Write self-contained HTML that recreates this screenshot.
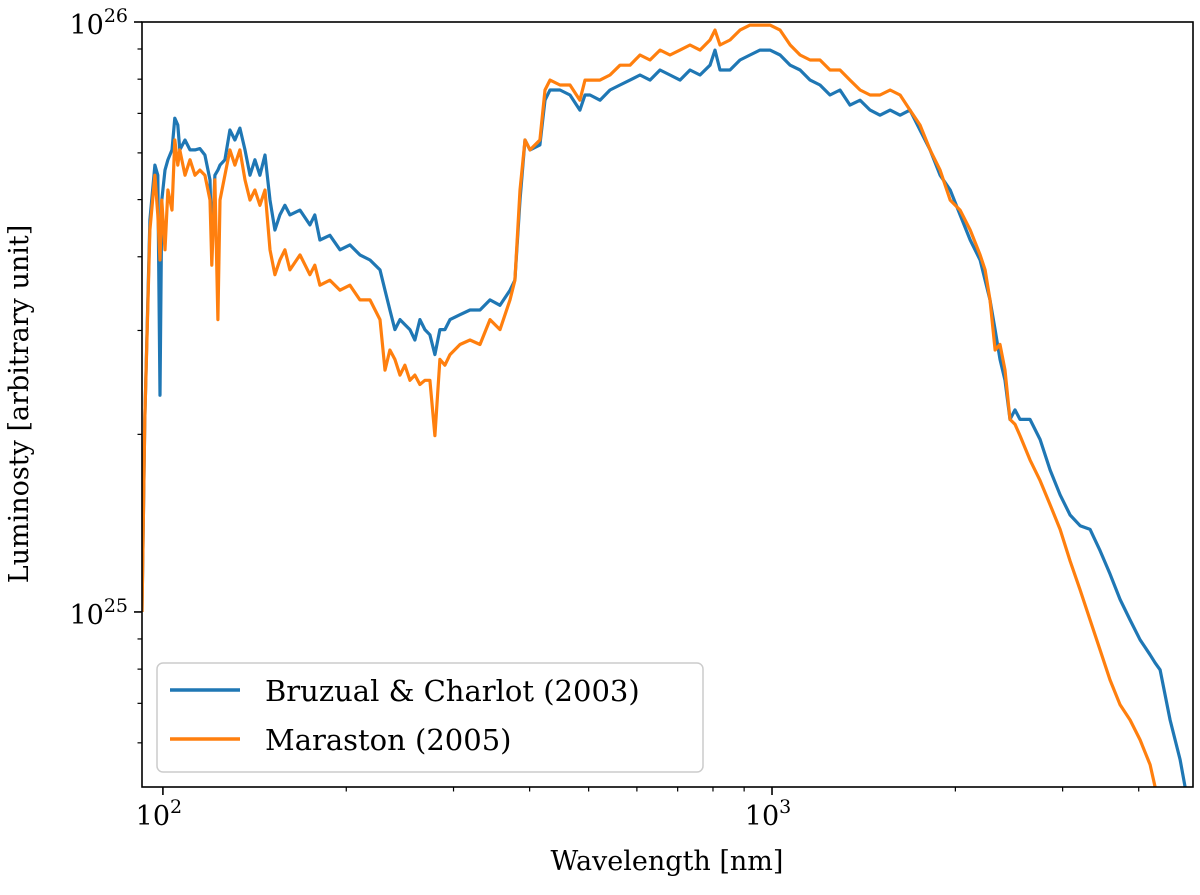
<!DOCTYPE html>
<html><head><meta charset="utf-8"><style>
html,body{margin:0;padding:0;background:#fff;}
svg text{font-family:"DejaVu Serif","Liberation Serif",serif;fill:#000;}
</style></head><body>
<svg id="chart" width="1200" height="890" viewBox="0 0 1200 890" xmlns="http://www.w3.org/2000/svg">
<defs><clipPath id="clip"><rect x="142" y="22" width="1051" height="765"/></clipPath></defs>
<g id="lines" clip-path="url(#clip)"></g>
<rect x="142" y="22" width="1051" height="765" fill="none" stroke="#000" stroke-width="1.6"/>
<g id="ticks"></g>
<text x="667" y="870" font-size="27" text-anchor="middle">Wavelength [nm]</text>
<text transform="translate(28,404) rotate(-90)" font-size="27" text-anchor="middle">Luminosty [arbitrary unit]</text>
<g>
<rect x="157" y="663" width="546" height="109" rx="6" fill="#fff" fill-opacity="0.8" stroke="#ccc" stroke-width="1.5"/>
<line x1="170" y1="690" x2="240" y2="690" stroke="#1f77b4" stroke-width="3.5"/>
<text x="265" y="701" font-size="29">Bruzual &amp; Charlot (2003)</text>
<line x1="170" y1="739" x2="240" y2="739" stroke="#ff7f0e" stroke-width="3.5"/>
<text x="265" y="750" font-size="29">Maraston (2005)</text>
</g>
</svg>
<script>
const wavelengths=[92.4,93.4,95.2,97.0,98.1,98.9,99.6,100.8,101.9,103.5,104.6,105.8,106.6,108.7,110.8,112.9,115.0,117.2,119.5,120.3,121.7,123.1,124.1,126.4,128.8,131.3,133.8,136.4,139.0,141.6,144.3,147.1,149.9,152.7,155.6,158.6,161.6,167.9,174.3,177.6,181.0,188.0,195.3,202.8,210.6,218.8,227.2,231.5,235.9,240.4,245.0,249.6,254.4,259.2,264.2,269.2,274.4,279.6,284.9,290.4,296.0,307.4,319.3,331.6,344.4,357.6,371.4,378.4,385.7,393.0,400.6,415.9,424.0,432.1,448.6,465.9,483.8,493.1,502.5,521.9,542.0,562.9,584.5,607.2,630.5,654.8,680.0,706.2,733.5,761.7,791.0,806.1,821.5,853.1,886.1,920.2,955.6,992.4,1031,1071,1112,1155,1199,1245,1293,1343,1395,1449,1504,1563,1623,1685,1750,1818,1888,1961,2036,2115,2196,2238,2280,2324,2368,2413,2459,2506,2554,2652,2755,2861,2971,3086,3205,3329,3457,3589,3728,3871,4021,4176,4256,4337,4504,4677,4766];
// luminosity in units of 1e25
const bc03=[1.00,2.12,4.62,5.72,5.50,2.33,4.99,5.61,5.84,6.07,6.87,6.69,6.07,6.31,6.07,6.07,6.10,5.95,5.40,4.11,5.50,5.61,5.72,5.84,6.56,6.31,6.61,6.07,5.50,5.84,5.50,5.95,4.99,4.44,4.71,4.89,4.71,4.80,4.53,4.71,4.27,4.35,4.11,4.19,4.03,3.95,3.80,3.51,3.25,3.01,3.13,3.07,3.01,2.89,3.13,3.01,2.95,2.73,3.01,3.01,3.13,3.19,3.25,3.25,3.38,3.31,3.51,3.65,4.99,6.31,6.07,6.19,7.37,7.67,7.67,7.52,7.09,7.52,7.52,7.37,7.67,7.82,7.97,8.13,7.97,8.29,8.13,7.97,8.29,8.13,8.45,8.96,8.29,8.29,8.62,8.79,8.96,8.96,8.79,8.45,8.29,7.97,7.82,7.52,7.67,7.23,7.37,7.09,6.95,7.09,6.95,7.09,6.56,6.07,5.50,5.19,4.71,4.27,3.95,3.65,3.38,3.01,2.68,2.47,2.12,2.20,2.12,2.12,1.96,1.74,1.58,1.46,1.40,1.38,1.27,1.16,1.05,0.969,0.897,0.846,0.82,0.798,0.656,0.562,0.505];
const m05=[1.00,2.12,4.44,5.50,4.71,3.95,4.99,4.11,5.19,4.80,6.31,5.72,6.07,5.50,5.84,5.50,5.61,5.50,4.99,3.87,5.40,3.13,4.99,5.50,6.07,5.72,6.07,5.40,4.99,5.19,4.89,5.19,4.11,3.73,3.95,4.11,3.80,4.03,3.73,3.87,3.58,3.65,3.51,3.58,3.38,3.38,3.13,2.57,2.78,2.68,2.52,2.62,2.47,2.52,2.43,2.47,2.47,1.99,2.68,2.62,2.73,2.84,2.89,2.84,3.13,3.01,3.38,3.65,5.19,6.31,6.07,6.31,7.67,7.97,7.82,7.82,7.37,7.97,7.97,7.97,8.13,8.45,8.45,8.79,8.62,8.96,8.79,8.96,9.14,8.96,9.32,9.69,9.14,9.32,9.69,9.88,9.88,9.88,9.69,9.14,8.79,8.62,8.62,8.29,8.29,7.97,7.67,7.52,7.52,7.67,7.52,7.09,6.69,6.07,5.61,4.99,4.80,4.44,4.03,3.80,3.38,2.78,2.84,2.57,2.12,2.08,1.99,1.81,1.67,1.52,1.38,1.22,1.09,0.969,0.862,0.767,0.696,0.656,0.607,0.551,0.505,null,null,null,null];
const xTicksMajor=[100,1000];
const xTickLabels=["2","3"];
const xTicksMinor=[200,300,400,500,600,700,800,900,2000,3000,4000];
const yTicksMajor=[1e25,1e26];
const yTickLabels=["25","26"];
const yTicksMinor=[6e24,7e24,8e24,9e24,2e25,3e25,4e25,5e25,6e25,7e25,8e25,9e25];

const X0=142,X1=1193,Y0=22,Y1=787;
const xMin=Math.log10(92.4),xMax=Math.log10(4911);
const yMin=Math.log10(5.05e24),yMax=26;
function xs(v){return X0+(Math.log10(v)-xMin)/(xMax-xMin)*(X1-X0);}
function ys(v){return Y1-(Math.log10(v)-yMin)/(yMax-yMin)*(Y1-Y0);}
const NS="http://www.w3.org/2000/svg";
const svg=document.getElementById('chart');
const lines=document.getElementById('lines');
const ticks=document.getElementById('ticks');
function mk(tag,attrs,parent){const e=document.createElementNS(NS,tag);for(const k in attrs)e.setAttribute(k,attrs[k]);parent.appendChild(e);return e;}
function drawSeries(vals,color,name){
  let d="";let started=false;
  for(let i=0;i<wavelengths.length;i++){
    if(vals[i]==null){continue;}
    d+=(started?"L":"M")+xs(wavelengths[i]).toFixed(1)+","+ys(vals[i]*1e25).toFixed(1);
    started=true;
  }
  const p=mk('path',{d:d,fill:'none',stroke:color,'stroke-width':3.2,'stroke-linejoin':'round'},lines);
  
  
}
drawSeries(bc03,'#1f77b4','series-bruzual-charlot');
drawSeries(m05,'#ff7f0e','series-maraston');

xTicksMajor.forEach((v,i)=>{
  const x=xs(v);
  const t=mk('line',{x1:x,y1:Y1,x2:x,y2:Y1+8,stroke:'#000','stroke-width':1.6},ticks);
  
  
  const tx=mk('text',{x:x-4,y:Y1+38,'font-size':27,'text-anchor':'middle'},ticks);
  
  
  tx.textContent="10";
  const s=mk('tspan',{dy:-12,'font-size':19},tx);s.textContent=xTickLabels[i];
});
xTicksMinor.forEach(v=>{
  const x=xs(v);
  const t=mk('line',{x1:x,y1:Y1,x2:x,y2:Y1+4.5,stroke:'#000','stroke-width':1.2},ticks);
  
  
});
yTicksMajor.forEach((v,i)=>{
  const y=ys(v);
  const t=mk('line',{x1:X0-8,y1:y,x2:X0,y2:y,stroke:'#000','stroke-width':1.6},ticks);
  
  
  const tx=mk('text',{x:X0-14,y:y+12,'font-size':27,'text-anchor':'end'},ticks);
  
  
  tx.textContent="10";
  const s=mk('tspan',{dy:-12,'font-size':19},tx);s.textContent=yTickLabels[i];
});
yTicksMinor.forEach(v=>{
  const y=ys(v);
  const t=mk('line',{x1:X0-4.5,y1:y,x2:X0,y2:y,stroke:'#000','stroke-width':1.2},ticks);
  
  
});
</script>
</body></html>
